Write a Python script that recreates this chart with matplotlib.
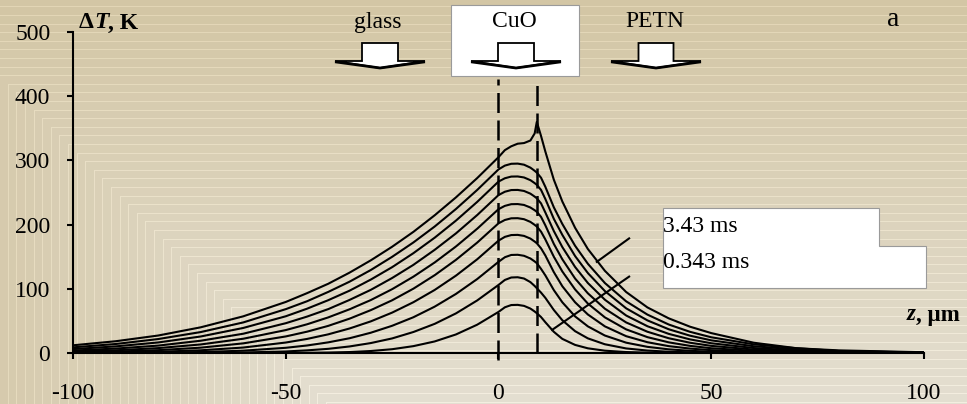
import numpy as np
import matplotlib
matplotlib.use("Agg")
import matplotlib.pyplot as plt
from matplotlib.patches import Polygon, Rectangle

W, H, DPI = 967, 404, 100

# depth coordinate, um (glass z<0, CuO 0..9, PETN z>9)
z = [-100, -90, -80, -70, -60, -50, -45, -40, -35, -30, -25, -20, -15, -10, -5, 0,
     1.5, 3, 4.5, 6, 7.5, 8.5, 9,
     10, 11, 13, 15, 18, 21, 25, 30, 35, 40, 45, 50, 60, 70, 80, 100]

# temperature rise profiles, K, every 0.343 ms from 0.343 ms to 3.43 ms
dT_0343 = [0, 0, 0, 0, 0, 0.1, 0.3, 0.7, 1.5, 3.1, 5.9, 10.7, 18.0, 28.9, 44.1, 64,
           71.2, 74.7, 75, 73.4, 69.2, 64.6, 62,
           56, 48, 33, 22, 12.6, 7.3, 3.6, 1.5, 0.6, 0.2, 0.1, 0, 0, 0, 0, 0]
dT_0686 = [0, 0, 0.1, 0.2, 0.8, 2.4, 4.1, 6.5, 10.2, 15.5, 22.7, 32.7, 45.4, 61.7, 81.9, 106,
           113.8, 117.6, 118, 116.0, 110.4, 104.4, 101,
           94, 86, 67, 51, 34, 22.8, 13.6, 7.1, 3.8, 2.0, 1.1, 0.6, 0.2, 0, 0, 0]
dT_1029 = [0.1, 0.2, 0.6, 1.5, 3.6, 8.1, 11.7, 16.6, 23.0, 31.6, 42.4, 55.7, 72.2, 92.0, 115.2, 142,
           149.2, 152.7, 153, 151.4, 147.2, 142.6, 140,
           131, 121, 98, 79, 57, 41.5, 27.2, 16.1, 9.6, 5.7, 3.4, 2.0, 0.7, 0.3, 0.1, 0]
dT_1372 = [0.3, 0.9, 1.9, 4.2, 8.5, 16.3, 21.9, 29.1, 38.2, 49.3, 62.9, 79.1, 98.2, 120.5, 146.0, 175,
           180.9, 183.7, 184, 182.4, 178.2, 173.6, 171,
           163, 152, 126, 104, 79, 60, 41.5, 26.2, 16.8, 10.7, 6.9, 4.4, 1.8, 0.7, 0.3, 0]
dT_1715 = [1.0, 2.2, 4.4, 8.3, 15.0, 25.8, 33.2, 42.3, 53.5, 66.8, 82.1, 100.2, 121.2, 145.1, 172.0, 202,
           207.2, 209.8, 210, 208.4, 204.2, 199.6, 197,
           189, 177, 150, 127, 99, 77, 55.5, 36.8, 24.7, 16.6, 11.1, 7.4, 3.4, 1.5, 0.7, 0.1]
dT_2058 = [2.2, 4.2, 7.6, 13.3, 22.2, 35.7, 44.7, 55.5, 68.1, 82.5, 99.4, 118.9, 141.0, 165.9, 193.6, 224,
           229.2, 231.8, 232, 230.6, 226.6, 222.4, 220,
           212, 199, 170, 146, 116, 93, 69, 47.6, 33.1, 23.0, 16.0, 11.1, 5.3, 2.6, 1.2, 0.3]
dT_2401 = [3.8, 6.9, 11.5, 19.1, 30.0, 46.4, 56.7, 68.4, 82.7, 98.4, 116.8, 137.3, 160.7, 186.3, 214.9, 246,
           251.2, 253.8, 254, 252.4, 248.2, 243.6, 241,
           233, 219, 190, 165, 134, 109, 83, 58.4, 41.7, 29.8, 21.2, 15.2, 7.7, 3.9, 2.0, 0.5]
dT_2744 = [6.1, 10.3, 16.4, 25.7, 39.0, 57.2, 69.0, 82.3, 97.1, 114.4, 133.7, 155.5, 179.6, 206.2, 235.4, 267,
           272.2, 274.8, 275, 273.4, 269.2, 264.6, 262,
           254, 240, 209, 184, 151, 124.5, 96.5, 69.6, 50.8, 37.0, 27.0, 19.7, 10.5, 5.6, 3.0, 0.8]
dT_3087 = [8.8, 14.0, 21.7, 32.6, 47.6, 68.3, 80.6, 95.2, 111.1, 129.3, 149.8, 172.2, 197.0, 224.3, 254.0, 286,
           291.9, 294.7, 295, 293.3, 288.7, 283.8, 281,
           273, 259, 227, 201, 167, 139, 109, 80.5, 59.8, 44.4, 33.0, 24.5, 13.5, 7.4, 4.1, 1.2]
dT_3430 = [12.0, 18.3, 27.2, 40.0, 57.1, 79.5, 93.2, 107.9, 125.2, 144.4, 165.5, 188.7, 214.5, 242.4, 272.5, 305,
           316, 322, 326, 327, 331, 342, 360,
           338, 314, 270, 236, 195, 162, 128, 95, 71, 54, 41, 31, 16, 7.5, 3, 0.4]
profiles = [dT_0343, dT_0686, dT_1029, dT_1372, dT_1715,
            dT_2058, dT_2401, dT_2744, dT_3087, dT_3430]

layer_edges = [0, 9]            # CuO layer boundaries, um
x_ticks = [-100, -50, 0, 50, 100]
x_tick_labels = ["-100", "-50", "0", "50", "100"]
y_ticks = [0, 100, 200, 300, 400, 500]
y_tick_labels = ["0", "100", "200", "300", "400", "500"]
time_labels = ["3.43 ms", "0.343 ms"]
region_labels = ["glass", "CuO", "PETN"]

SERIF = "Liberation Serif"
plt.rcParams["font.family"] = [SERIF, "DejaVu Serif"]
FS = 17

fig = plt.figure(figsize=(W / DPI, H / DPI), dpi=DPI)

# ---- banded beige backdrop (pixel coordinate canvas) ----
yy, xx = np.mgrid[0:H, 0:W]
step = 8.6
band = np.minimum(np.floor((yy - 6) / step), np.floor((xx + 70) / step))
band = np.clip(band, -1, 48)
frac = (band + 1) / 49.0
dark = np.array([211, 198, 165]) / 255
light = np.array([229, 224, 211]) / 255
img = dark + (light - dark) * frac[..., None]
edge = np.zeros((H, W), bool)
edge[1:, :] |= band[1:, :] != band[:-1, :]
edge[:, 1:] |= band[:, 1:] != band[:, :-1]
img[edge] = np.minimum(img[edge] + 0.06, 1)

bg = fig.add_axes([0, 0, 1, 1])
bg.imshow(img, extent=(0, W, H, 0), aspect="auto", interpolation="nearest")
bg.set_xlim(0, W)
bg.set_ylim(H, 0)
bg.axis("off")

# ---- main plot ----
x0, x1, y_top, y_bot = 73, 924, 32, 353
ax = fig.add_axes([x0 / W, (H - y_bot) / H, (x1 - x0) / W, (y_bot - y_top) / H])
ax.patch.set_alpha(0)
ax.set_xlim(-100, 100)
ax.set_ylim(0, 500)
for s in ("top", "right"):
    ax.spines[s].set_visible(False)
for s in ("left", "bottom"):
    ax.spines[s].set_linewidth(1.5)
ax.set_xticks(x_ticks)
ax.set_xticklabels(x_tick_labels)
ax.set_yticks(y_ticks)
ax.set_yticklabels(y_tick_labels)
ax.tick_params(axis="both", direction="out", length=4.3, width=1.5,
               labelsize=FS, colors="black")
ax.tick_params(axis="y", pad=12)
ax.tick_params(axis="x", pad=17.5)

for prof in profiles:
    ax.plot(z, prof, color="black", lw=1.5, solid_joinstyle="round",
            solid_capstyle="round", zorder=3)

# CuO layer boundaries
ax.plot([layer_edges[0]] * 2, [-11, 427], color="black", lw=1.8,
        ls=(0, (8, 3)), clip_on=False, zorder=4)
ax.plot([layer_edges[1]] * 2, [0, 427], color="black", lw=1.8,
        ls=(0, (8, 3)), clip_on=False, zorder=4)

# pointers to the first and last profiles
ax.plot([23.1, 30.7], [142, 178.5], color="black", lw=1.5, zorder=4)
ax.plot([12.6, 30.7], [36, 119], color="black", lw=1.5, zorder=4)

# ---- annotations in pixel space ----
def block_arrow(cx, half_stem, half_head):
    top, neck, tip = 43, 61, 68
    pts = [(cx - half_stem, top), (cx + half_stem, top), (cx + half_stem, neck),
           (cx + half_head, neck), (cx, tip), (cx - half_head, neck),
           (cx - half_stem, neck)]
    bg.add_patch(Polygon(pts, closed=True, facecolor="white", edgecolor="black",
                         lw=1.3, joinstyle="miter", zorder=5))
    bg.plot([cx - half_head, cx, cx + half_head], [neck + 0.8, tip, neck + 0.8],
            color="black", lw=2.0, solid_capstyle="butt", zorder=6)

bg.add_patch(Rectangle((451, 5), 128, 71, facecolor="white", edgecolor="#9a9a9a",
                       lw=0.8, zorder=4))
block_arrow(380, 18, 45)
block_arrow(516, 18, 45)
block_arrow(656, 17.5, 45)

bg.text(377.5, 28, region_labels[0], ha="center", va="baseline", fontsize=FS, zorder=7)
bg.text(514, 27, region_labels[1], ha="center", va="baseline", fontsize=FS, zorder=7)
bg.text(655, 27, region_labels[2], ha="center", va="baseline", fontsize=FS, zorder=7)
bg.text(893.5, 26, "a", ha="center", va="baseline", fontsize=20, zorder=7)

# time legend box
bg.add_patch(Polygon([(663, 208), (879, 208), (879, 246), (926, 246), (926, 288),
                      (663, 288)], closed=True, facecolor="white",
                     edgecolor="#9a9a9a", lw=0.8, zorder=4))
bg.text(663, 231.5, time_labels[0], ha="left", va="baseline", fontsize=FS, zorder=7)
bg.text(663, 268.3, time_labels[1], ha="left", va="baseline", fontsize=FS, zorder=7)

# axis titles built from bold / bold-italic pieces
renderer = fig.canvas.get_renderer()

def run_text(x, y, pieces, size):
    for s, style in pieces:
        t = bg.text(x, y, s, ha="left", va="baseline", fontsize=size,
                    fontweight="bold", fontstyle=style, zorder=7)
        bb = t.get_window_extent(renderer=renderer)
        x += bb.width

run_text(79, 28.5, [("\u0394", "normal"), ("T", "italic"), (", K", "normal")], FS)
run_text(907, 320.5, [("z", "italic"), (", \u00b5m", "normal")], FS - 0.5)

fig.savefig("out.png", dpi=DPI)
